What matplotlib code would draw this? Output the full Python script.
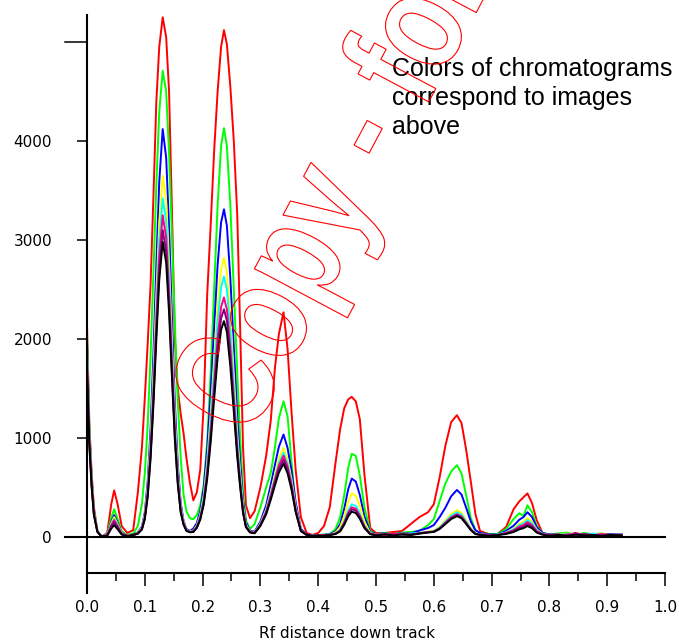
import matplotlib
matplotlib.use('Agg')
import matplotlib.pyplot as plt
from matplotlib.textpath import TextPath
from matplotlib.patches import PathPatch
from matplotlib.font_manager import FontProperties
from matplotlib.transforms import Affine2D

# Rf positions (shared by all traces)
rf = [0.000, 0.004, 0.008, 0.012, 0.018, 0.025, 0.035, 0.042, 0.047, 0.053,
      0.060, 0.070, 0.080, 0.088, 0.095, 0.100, 0.105, 0.110, 0.115, 0.120,
      0.125, 0.131, 0.137, 0.142, 0.147, 0.152, 0.157, 0.162, 0.167, 0.172,
      0.178, 0.184, 0.190, 0.196, 0.202, 0.208, 0.214, 0.220, 0.226, 0.232,
      0.237, 0.242, 0.248, 0.254, 0.260, 0.265, 0.270, 0.275, 0.282, 0.290,
      0.300, 0.310, 0.318, 0.325, 0.332, 0.340, 0.347, 0.354, 0.361, 0.370,
      0.380, 0.390, 0.400, 0.410, 0.420, 0.430, 0.438, 0.445, 0.452, 0.458,
      0.465, 0.472, 0.480, 0.490, 0.500, 0.515, 0.530, 0.545, 0.560, 0.575,
      0.590, 0.600, 0.610, 0.620, 0.630, 0.640, 0.648, 0.656, 0.664, 0.672,
      0.680, 0.695, 0.710, 0.725, 0.738, 0.748, 0.755, 0.762, 0.770, 0.778,
      0.788, 0.800, 0.815, 0.830, 0.845, 0.860, 0.875, 0.890, 0.905, 0.925]

red = [2150, 1150, 650, 300, 60, 0, 40, 330, 470, 330,
       110, 40, 70, 450, 900, 1400, 1950, 2550, 3450, 4400,
       4950, 5250, 5050, 4500, 3300, 2000, 1500, 1250, 1050, 800,
       550, 370, 450, 680, 1350, 2450, 3150, 3900, 4500, 4950,
       5120, 4980, 4550, 4000, 3250, 2100, 900, 320, 190, 260,
       500, 820, 1180, 1700, 2050, 2270, 1900, 1250, 680, 200,
       40, 20, 40, 110, 300, 750, 1090, 1300, 1390, 1415,
       1370, 1190, 630, 90, 40, 40, 50, 60, 130, 200,
       250, 330, 600, 920, 1160, 1230, 1150, 880, 560, 230,
       60, 30, 30, 100, 280, 360, 400, 440, 340, 170,
       40, 20, 30, 20, 40, 20, 30, 20, 30, 20]

green = [2050, 1128, 615, 267, 62, 5, 28, 196, 280, 182,
         56, 20, 35, 110, 330, 640, 1130, 1830, 2680, 3560,
         4290, 4710, 4500, 3880, 3040, 2160, 1390, 815, 430, 260,
         190, 180, 220, 320, 530, 960, 1660, 2500, 3350, 3950,
         4130, 3950, 3350, 2500, 1650, 1000, 450, 170, 80, 130,
         300, 500, 650, 900, 1200, 1370, 1220, 750, 300, 80,
         20, 15, 20, 25, 30, 80, 200, 420, 700, 840,
         820, 620, 300, 60, 30, 40, 30, 45, 50, 60,
         120, 180, 360, 540, 660, 725, 640, 420, 190, 70,
         40, 30, 30, 80, 180, 240, 210, 320, 250, 110,
         40, 25, 35, 45, 20, 40, 25, 35, 20, 30]

blue = [1950, 1070, 585, 255, 60, 5, 25, 155, 220, 145,
        45, 15, 25, 45, 103, 247, 556, 1092, 1854, 2760,
        3584, 4120, 3832, 3131, 2225, 1360, 742, 350, 165, 80,
        60, 85, 140, 265, 497, 894, 1456, 2118, 2747, 3178,
        3310, 3145, 2615, 1920, 1225, 761, 364, 149, 60, 55,
        155, 321, 528, 725, 911, 1035, 900, 662, 352, 83,
        25, 15, 20, 20, 30, 55, 130, 283, 484, 590,
        560, 425, 207, 50, 30, 35, 25, 40, 35, 65,
        90, 120, 200, 295, 410, 475, 428, 295, 157, 67,
        40, 25, 25, 60, 113, 175, 200, 250, 200, 100,
        40, 25, 30, 15, 35, 20, 25, 15, 30, 20]

yellow = [1900, 1045, 570, 247, 57, 5, 20, 140, 200, 130,
          40, 15, 20, 40, 91, 219, 493, 967, 1643, 2446,
          3176, 3650, 3395, 2774, 1971, 1205, 657, 310, 150, 70,
          55, 65, 115, 225, 423, 761, 1241, 1805, 2341, 2707,
          2820, 2679, 2228, 1636, 1043, 649, 310, 127, 55, 45,
          135, 279, 459, 630, 792, 900, 783, 576, 306, 72,
          20, 10, 15, 15, 25, 45, 100, 211, 361, 440,
          418, 317, 154, 40, 25, 30, 20, 35, 30, 40,
          55, 65, 103, 167, 232, 270, 243, 167, 89, 38,
          25, 20, 20, 45, 86, 133, 152, 190, 152, 76,
          30, 20, 25, 35, 15, 30, 20, 35, 15, 25]

cyan = [1850, 1018, 555, 240, 56, 5, 18, 126, 180, 117,
        36, 12, 20, 37, 86, 205, 462, 906, 1539, 2291,
        2975, 3420, 3181, 2599, 1847, 1129, 616, 291, 140, 69,
        51, 59, 107, 210, 395, 710, 1157, 1683, 2183, 2525,
        2630, 2499, 2078, 1525, 973, 605, 289, 118, 50, 43,
        128, 264, 434, 595, 748, 850, 740, 544, 289, 68,
        20, 15, 10, 20, 25, 36, 73, 158, 271, 330,
        314, 238, 116, 35, 20, 25, 30, 20, 35, 40,
        50, 60, 95, 155, 215, 250, 225, 155, 83, 35,
        25, 15, 25, 44, 77, 119, 136, 170, 136, 68,
        30, 15, 20, 30, 25, 15, 35, 20, 25, 30]

pink = [1800, 990, 540, 234, 54, 5, 17, 119, 170, 110,
        34, 12, 20, 36, 81, 195, 439, 861, 1463, 2178,
        2828, 3250, 3023, 2470, 1755, 1073, 585, 276, 134, 66,
        50, 56, 100, 194, 363, 653, 1065, 1549, 2009, 2323,
        2420, 2299, 1912, 1404, 895, 557, 266, 109, 50, 41,
        123, 254, 418, 574, 722, 820, 713, 525, 279, 66,
        22, 10, 15, 20, 20, 34, 66, 144, 246, 300,
        285, 216, 105, 31, 25, 20, 35, 25, 20, 38,
        49, 55, 87, 143, 198, 230, 207, 143, 76, 32,
        24, 20, 20, 40, 68, 105, 120, 150, 120, 60,
        28, 20, 15, 25, 30, 20, 15, 30, 20, 25]

purple = [1750, 963, 525, 228, 53, 5, 15, 105, 150, 98,
          30, 10, 19, 35, 78, 186, 419, 822, 1395, 2077,
          2697, 3100, 2883, 2356, 1674, 1023, 558, 264, 129, 64,
          48, 55, 96, 185, 345, 621, 1012, 1472, 1909, 2208,
          2300, 2185, 1817, 1334, 851, 529, 253, 104, 48, 39,
          117, 242, 398, 546, 686, 780, 679, 499, 265, 62,
          22, 15, 10, 15, 25, 32, 62, 134, 230, 280,
          266, 202, 98, 30, 20, 30, 20, 30, 25, 37,
          47, 53, 84, 136, 189, 220, 198, 136, 73, 31,
          23, 15, 20, 36, 59, 91, 104, 130, 104, 52,
          26, 15, 25, 15, 20, 30, 20, 15, 25, 20]

black = [1700, 935, 510, 221, 51, 5, 12, 84, 120, 78,
         24, 8, 19, 34, 75, 179, 402, 790, 1341, 1997,
         2593, 2980, 2771, 2265, 1609, 983, 536, 253, 124, 63,
         47, 50, 90, 176, 327, 589, 959, 1395, 1809, 2093,
         2180, 2071, 1722, 1264, 807, 501, 240, 98, 45, 37,
         111, 229, 377, 518, 651, 740, 644, 474, 252, 59,
         21, 10, 15, 12, 18, 30, 56, 122, 209, 255,
         242, 184, 89, 28, 15, 25, 15, 25, 20, 33,
         45, 50, 80, 130, 181, 210, 189, 130, 69, 29,
         21, 12, 18, 30, 50, 77, 88, 110, 88, 44,
         23, 12, 20, 10, 25, 15, 20, 10, 20, 15]

traces = [red, green, blue, yellow, cyan, pink, purple, black]
trace_colors = ['#ff0000', '#00ff00', '#0000ff', '#ffff00', '#00ffff',
                '#ff0080', '#800080', '#000000']

y_ticks = [0, 1000, 2000, 3000, 4000]
x_ticks = [0.0, 0.1, 0.2, 0.3, 0.4, 0.5, 0.6, 0.7, 0.8, 0.9, 1.0]

fig = plt.figure(figsize=(6.79, 6.43), dpi=100)
ax = fig.add_axes([0.1281, 0.1089, 0.8513, 0.8678])

for vals, col in zip(traces, trace_colors):
    ax.plot(rf, vals, color=col, lw=1.4)

ymin, ymax = -364, 5273
ax.set_xlim(0, 1.0)
ax.set_ylim(ymin, ymax)

# axes look
for s in ['top', 'right']:
    ax.spines[s].set_visible(False)
for s in ['left', 'bottom']:
    ax.spines[s].set_linewidth(1.5)

ax.set_xticks(x_ticks)
ax.set_xticklabels(['%.1f' % v for v in x_ticks])
ax.set_xticks([v + 0.05 for v in x_ticks[:-1]], minor=True)
ax.tick_params(axis='x', which='major', length=9.4, width=1.1, pad=10, labelsize=11)
ax.tick_params(axis='x', which='minor', length=5.8, width=1.1)
ax.set_yticks(y_ticks)
ax.set_yticklabels([str(v) for v in y_ticks])
ax.tick_params(axis='y', length=7.2, width=1.1, pad=18, labelsize=11)

# zero baseline, long 5000 tick and the extended left axis
ax.plot([-0.038, 1.0], [0, 0], color='black', lw=1.5, clip_on=False)
ax.plot([-0.038, 0], [5000, 5000], color='black', lw=1.1, clip_on=False)
ax.plot([0, 0], [ymin, ymin - 202], color='black', lw=1.5, clip_on=False)

fig.text(347 / 679, 1 - 626 / 643, 'Rf distance down track', fontsize=11,
         ha='center', va='top')

fig.text(392 / 679, 1 - 76 / 643, 'Colors of chromatograms',
         fontsize=18, family='Liberation Sans', ha='left', va='baseline')
fig.text(392 / 679, 1 - 105 / 643, 'correspond to images',
         fontsize=18, family='Liberation Sans', ha='left', va='baseline')
fig.text(392 / 679, 1 - 134 / 643, 'above',
         fontsize=18, family='Liberation Sans', ha='left', va='baseline')

# outlined watermark
fp = FontProperties(family='Liberation Sans', weight='bold')
wm_size = 110
tp = TextPath((0, 0), 'Copy - for reference only', size=wm_size, prop=fp)
tr = Affine2D().scale(1, 1.3).rotate_deg(62)
cx, cy = tr.transform((0.36 * wm_size, 0.36 * wm_size))
tr = tr.translate(222 - cx, 262 - cy)
wm = PathPatch(tp, transform=tr, facecolor='none', edgecolor='red', lw=0.8, zorder=10)
fig.add_artist(wm)

fig.savefig('out.png', dpi=100)
